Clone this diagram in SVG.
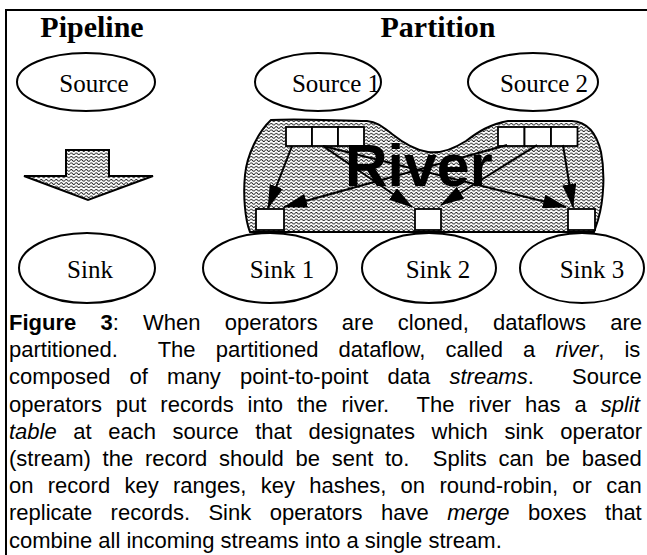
<svg xmlns="http://www.w3.org/2000/svg" width="647" height="555" viewBox="0 0 647 555">
  <defs>
    <!-- wavy hatching used for the river and the pipeline arrow -->
    <pattern id="wave" width="5" height="3.3" patternUnits="userSpaceOnUse">
      <rect width="5" height="3.3" fill="#fff"/>
      <path d="M0 2.1 Q1.25 0.5 2.5 2.1 T5 2.1" fill="none" stroke="#000" stroke-width="0.85"/>
    </pattern>
    <marker id="head" viewBox="0 0 24 14" refX="23" refY="7" markerWidth="24" markerHeight="14" markerUnits="userSpaceOnUse" orient="auto">
      <path d="M0 0 L24 7 L0 14 Z" fill="#000"/>
    </marker>
    <style>
      .title { font-family: "Liberation Serif", "Times New Roman", serif; font-weight: bold; font-size: 30px; text-anchor: middle; }
      .node ellipse { fill: #fff; stroke: #000; stroke-width: 2; }
      .label { font-family: "Liberation Serif", "Times New Roman", serif; font-size: 25px; text-anchor: middle; }
      .box { fill: #fff; stroke: #000; stroke-width: 1.8; }
      .flow { stroke: #000; stroke-width: 2; fill: none; marker-end: url(#head); }
      .cap { font-family: "Liberation Sans", Arial, sans-serif; font-size: 22px; fill: #000; }
    </style>
  </defs>

  <rect width="647" height="555" fill="#fff"/>

  <!-- frame -->
  <path d="M6 555 V10 H647" fill="none" stroke="#000" stroke-width="2"/>

  <!-- headings -->
  <text class="title" x="92" y="37">Pipeline</text>
  <text class="title" x="438" y="37">Partition</text>

  <!-- pipeline -->
  <g id="source" class="node">
    <ellipse cx="86" cy="82" rx="69" ry="29"/>
    <text class="label" x="94" y="92">Source</text>
  </g>
  <g id="pipe-arrow">
    <polygon points="66,150 109,150 109,176 153,176 88,200 24,176 66,176" fill="url(#wave)" stroke="#000" stroke-width="2" stroke-linejoin="miter"/>
  </g>
  <g id="sink" class="node">
    <ellipse cx="87" cy="268" rx="68" ry="35"/>
    <text class="label" x="90" y="278">Sink</text>
  </g>

  <!-- partitioned sources -->
  <g id="source1" class="node">
    <ellipse cx="318" cy="82" rx="63" ry="29"/>
    <text class="label" x="336" y="92">Source 1</text>
  </g>
  <g id="source2" class="node">
    <ellipse cx="533" cy="82" rx="65" ry="29"/>
    <text class="label" x="544" y="92">Source 2</text>
  </g>

  <!-- river -->
  <g id="river">
    <path d="M271 120 C300 118 340 121 367 121 C378 122 384 128 392 134 C402 142 414 150 428 152 C442 154 455 148 466 141 C478 132 490 124 508 121 L572 121 C588 122 597 135 601 152 C605 172 604 200 598 220 L594 232 L250 232 C245 220 243 195 245 175 C247 155 258 132 271 120 Z" fill="url(#wave)" stroke="#000" stroke-width="2"/>
  </g>

  <!-- split tables -->
  <g id="split1">
    <rect class="box" x="286" y="127" width="26" height="19"/>
    <rect class="box" x="312" y="127" width="26" height="19"/>
    <rect class="box" x="338" y="127" width="26" height="19"/>
  </g>
  <g id="split2">
    <rect class="box" x="498" y="127" width="26.5" height="19"/>
    <rect class="box" x="524.5" y="127" width="26.5" height="19"/>
    <rect class="box" x="551" y="127" width="26.5" height="19"/>
  </g>

  <!-- merge boxes -->
  <g id="merge1"><rect class="box" x="256" y="209" width="28" height="21"/></g>
  <g id="merge2"><rect class="box" x="415" y="209" width="26" height="21"/></g>
  <g id="merge3"><rect class="box" x="568" y="209" width="27" height="21"/></g>

  <!-- streams -->
  <g id="connectors">
    <line class="flow" x1="292" y1="146" x2="268" y2="208"/>
    <line class="flow" x1="323" y1="146" x2="412" y2="207"/>
    <line class="flow" x1="323" y1="146" x2="566" y2="207"/>
    <line class="flow" x1="507" y1="145" x2="284" y2="207"/>
    <line class="flow" x1="537" y1="145" x2="441" y2="205"/>
    <line class="flow" x1="563" y1="145" x2="573" y2="207"/>
  </g>

  <text x="345" y="186" font-family="Liberation Sans, Arial, sans-serif" font-weight="bold" font-size="59" fill="#000">River</text>

  <!-- partitioned sinks -->
  <g id="sink1" class="node">
    <ellipse cx="270" cy="268" rx="67" ry="35"/>
    <text class="label" x="282" y="278">Sink 1</text>
  </g>
  <g id="sink2" class="node">
    <ellipse cx="429" cy="268" rx="67" ry="35"/>
    <text class="label" x="438" y="278">Sink 2</text>
  </g>
  <g id="sink3" class="node">
    <ellipse cx="582" cy="268" rx="62" ry="35"/>
    <text class="label" x="592" y="278">Sink 3</text>
  </g>

  <!-- caption, justified line by line -->
  <g id="caption" class="cap">
    <text x="9" y="330" word-spacing="18.1" xml:space="preserve"><tspan font-weight="bold">Figure 3</tspan>: When operators are cloned, dataflows are</text>
    <text x="9" y="357.2" word-spacing="14" xml:space="preserve">partitioned.  The partitioned dataflow, called a <tspan font-style="italic">river</tspan>, is</text>
    <text x="9" y="384.4" word-spacing="13" xml:space="preserve">composed of many point-to-point data <tspan font-style="italic">streams</tspan>.  Source</text>
    <text x="9" y="411.6" word-spacing="7.8" xml:space="preserve">operators put records into the river.  The river has a <tspan font-style="italic">split</tspan></text>
    <text x="9" y="438.8" word-spacing="10.5" xml:space="preserve"><tspan font-style="italic">table</tspan> at each source that designates which sink operator</text>
    <text x="9" y="466" word-spacing="5.6" xml:space="preserve">(stream) the record should be sent to.  Splits can be based</text>
    <text x="9" y="493.2" word-spacing="8.2" xml:space="preserve">on record key ranges, key hashes, on round-robin, or can</text>
    <text x="9" y="520.4" word-spacing="12.3" xml:space="preserve">replicate records. Sink operators have <tspan font-style="italic">merge</tspan> boxes that</text>
    <text x="9" y="547.6" xml:space="preserve">combine all incoming streams into a single stream.</text>
  </g>
</svg>
